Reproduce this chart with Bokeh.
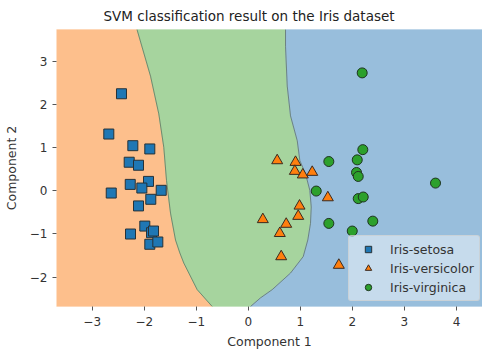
from bokeh.plotting import figure
from bokeh.models import Range1d, Legend, LegendItem, FixedTicker
from bokeh.embed import file_html
from bokeh.resources import INLINE

# ---- data ----
classes = ["Iris-setosa", "Iris-versicolor", "Iris-virginica"]

setosa_x = [-2.437, -2.681, -2.219, -1.893, -2.289, -2.110, -2.634, -2.269, -1.918, -2.046,
            -1.674, -1.874, -2.110, -1.989, -1.860, -2.264, -1.893, -1.739, -1.822]
setosa_y = [2.253, 1.318, 1.048, 0.972, 0.664, 0.594, -0.051, 0.150, 0.219, 0.065,
            0.012, -0.196, -0.350, -0.818, -0.972, -1.002, -1.240, -1.187, -0.933]

versicolor_x = [0.555, 0.907, 0.894, 1.047, 1.228, 1.528, 0.984, 0.959, 0.279, 0.728, 0.605, 0.632, 1.739]
versicolor_y = [0.703, 0.664, 0.456, 0.373, 0.433, -0.157, -0.350, -0.588, -0.664, -0.772, -0.986, -1.525, -1.724]

virginica_x = [2.200, 1.547, 2.093, 2.079, 2.112, 1.305, 2.112, 2.208, 2.392, 1.547, 1.997, 2.188, 3.597]
virginica_y = [0.956, 0.680, 0.719, 0.426, 0.334, -0.005, -0.180, -0.143, -0.703, -0.756, -0.933, 2.737, 0.180]

# decision boundary setosa | versicolor (x at given y)
b1_y = [3.744, 2.661, 1.786, 1.009, 0.242, -0.518, -1.141, -1.440, -1.677, -2.293, -2.684]
b1_x = [-2.139, -1.879, -1.720, -1.624, -1.572, -1.495, -1.399, -1.316, -1.239, -0.982, -0.694]
# decision boundary versicolor | virginica
b2_y = [3.744, 3.353, 2.431, 1.740, 1.164, 0.703, 0.396, 0.012, -0.373, -0.756, -1.141,
        -1.525, -1.908, -2.293, -2.484, -2.684]
b2_x = [0.715, 0.715, 0.748, 0.811, 0.940, 0.990, 1.099, 1.182, 1.209, 1.195, 1.143,
        1.055, 0.811, 0.459, 0.234, 0.042]

x_ticks = [-3, -2, -1, 0, 1, 2, 3, 4]
y_ticks = [-2, -1, 0, 1, 2, 3]

X0, X1 = -3.686, 4.50
Y0, Y1 = -2.684, 3.744

FONT = "DejaVu Sans"
TXT = "#333333"

p = figure(width=482, height=351, output_backend="svg", toolbar_location=None,
           x_range=Range1d(X0, X1), y_range=Range1d(Y0, Y1),
           min_border_left=56, min_border_right=0, min_border_top=28, min_border_bottom=44)
p.outline_line_color = None
p.xgrid.grid_line_color = None
p.ygrid.grid_line_color = None

# ---- regions ----
xl, xr = X0 - 1, X1 + 1
top, bot = b1_y[0], b1_y[-1]
orange_x = [xl] + b1_x + [xl]
orange_y = [top] + b1_y + [bot]
green_x = b1_x + b2_x[::-1]
green_y = b1_y + b2_y[::-1]
blue_x = b2_x + [xr, xr]
blue_y = b2_y + [b2_y[-1], b2_y[0]]

c_or, c_gr, c_bl = "#fdbf8c", "#a6d49e", "#98bedc"
p.patch(orange_x, orange_y, fill_color=c_or, line_color=c_or, line_width=1)
p.patch(green_x, green_y, fill_color=c_gr, line_color=c_gr, line_width=1)
p.patch(blue_x, blue_y, fill_color=c_bl, line_color=c_bl, line_width=1)
p.line(b1_x, b1_y, line_color="#5a6a5a", line_alpha=0.7, line_width=1)
p.line(b2_x, b2_y, line_color="#5a6a5a", line_alpha=0.7, line_width=1)

# ---- points ----
r1 = p.scatter(setosa_x, setosa_y, marker="square", size=10, fill_color="#1f77b4",
               line_color="#263238", line_width=1)
r2 = p.scatter(versicolor_x, versicolor_y, marker="triangle", size=11, fill_color="#ff7f0e",
               line_color="#3a2a20", line_width=1)
r3 = p.scatter(virginica_x, virginica_y, marker="circle", size=10, fill_color="#2ca02c",
               line_color="#1e3320", line_width=1)

# ---- title ----
p.title.text = "SVM classification result on the Iris dataset"
p.title.align = "left"
p.title.offset = 47
p.title.standoff = 11
p.title.text_font = FONT
p.title.text_font_size = "13.5px"
p.title.text_font_style = "normal"
p.title.text_color = "#222222"

# ---- axes ----
minus = "\u2212"
p.xaxis.ticker = FixedTicker(ticks=x_ticks)
p.yaxis.ticker = FixedTicker(ticks=y_ticks)
p.xaxis.major_label_overrides = {t: (str(t).replace("-", minus)) for t in x_ticks}
p.yaxis.major_label_overrides = {t: (str(t).replace("-", minus)) for t in y_ticks}
p.xaxis.axis_label = "Component 1"
p.yaxis.axis_label = "Component 2"
for ax in (p.xaxis[0], p.yaxis[0]):
    ax.axis_line_color = None
    ax.major_tick_line_color = "#555555"
    ax.major_tick_out = 4
    ax.major_tick_in = 0
    ax.minor_tick_line_color = None
    ax.major_label_text_font = FONT
    ax.major_label_text_font_size = "12px"
    ax.major_label_text_color = TXT
    ax.axis_label_text_font = FONT
    ax.axis_label_text_font_size = "12.5px"
    ax.axis_label_text_font_style = "normal"
    ax.axis_label_text_color = TXT
p.xaxis.major_label_standoff = 6
p.xaxis.axis_label_standoff = 5
p.yaxis.major_label_standoff = 5
p.yaxis.axis_label_standoff = 8

# ---- legend ----
legend = Legend(items=[LegendItem(label=classes[0], renderers=[r1]),
                       LegendItem(label=classes[1], renderers=[r2]),
                       LegendItem(label=classes[2], renderers=[r3])],
                location=(292, 5))
legend.label_text_font = FONT
legend.label_text_font_size = "12.5px"
legend.label_text_color = TXT
legend.background_fill_color = "white"
legend.background_fill_alpha = 0.45
legend.border_line_color = "#cccccc"
legend.border_line_alpha = 0.6
legend.border_radius = 3
legend.padding = 5
legend.spacing = 3
legend.glyph_width = 28
legend.glyph_height = 16
legend.label_height = 16
legend.label_standoff = 8
legend.margin = 0
p.add_layout(legend)

open("out.html", "w").write(file_html(p, INLINE))
